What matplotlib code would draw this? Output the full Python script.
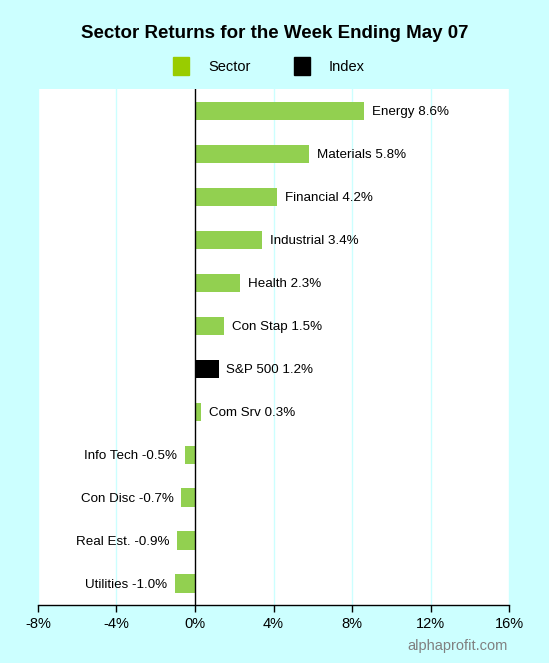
import matplotlib.pyplot as plt
from matplotlib.patches import Patch

plt.rcParams['font.family'] = ['Liberation Sans', 'DejaVu Sans']

# Data
sectors = ['Energy', 'Materials', 'Financial', 'Industrial', 'Health', 'Con Stap',
           'S&P 500', 'Com Srv', 'Info Tech', 'Con Disc', 'Real Est.', 'Utilities']
returns = [8.6, 5.8, 4.2, 3.4, 2.3, 1.5, 1.2, 0.3, -0.5, -0.7, -0.9, -1.0]
xticks = [-8, -4, 0, 4, 8, 12, 16]

bg = '#ccffff'
green = '#92d050'

fig = plt.figure(figsize=(5.49, 6.63), dpi=100, facecolor=bg)
ax = fig.add_axes([0.0692, 0.0875, 0.858, 0.778])
ax.set_facecolor('white')

colors = ['black' if s == 'S&P 500' else green for s in sectors]
ypos = list(range(len(sectors)))[::-1]
ax.barh(ypos, returns, height=0.42, color=colors, zorder=3)

# value labels next to each bar
for y, s, v in zip(ypos, sectors, returns):
    txt = f'{s} {v:.1f}%'
    if v >= 0:
        ax.text(v + 0.4, y - 0.03, txt, ha='left', va='center', fontsize=9.6, zorder=4)
    else:
        ax.text(v - 0.4, y - 0.03, txt, ha='right', va='center', fontsize=9.6, zorder=4)

ax.set_xlim(-8, 16)
ax.set_ylim(-0.5, len(sectors) - 0.5)
ax.set_xticks(xticks)
ax.set_xticklabels([f'{t}%' for t in xticks], fontsize=10.5)
ax.set_yticks([])
ax.tick_params(axis='x', length=5, width=1, pad=4)
for t in xticks:
    if t != 0:
        ax.axvline(t, color=bg, lw=1, zorder=1)
ax.axvline(0, color='black', lw=1, zorder=5)

for side in ['top', 'left', 'right']:
    ax.spines[side].set_visible(False)
ax.spines['bottom'].set_linewidth(1)

fig.suptitle('Sector Returns for the Week Ending May 07', fontsize=13.5,
             fontweight='bold', y=0.962)

handles = [Patch(color='#99cc00', label='Sector'), Patch(color='black', label='Index')]
fig.legend(handles=handles, loc='center', bbox_to_anchor=(0.49, 0.90), ncol=2,
           frameon=False, fontsize=10.5, handlelength=1.1, handleheight=1.5,
           columnspacing=3.0, handletextpad=1.3)

fig.text(0.925, 0.025, 'alphaprofit.com', ha='right', va='center',
         fontsize=10.5, color='#808080')

fig.savefig('out.png', dpi=100, facecolor=bg)
